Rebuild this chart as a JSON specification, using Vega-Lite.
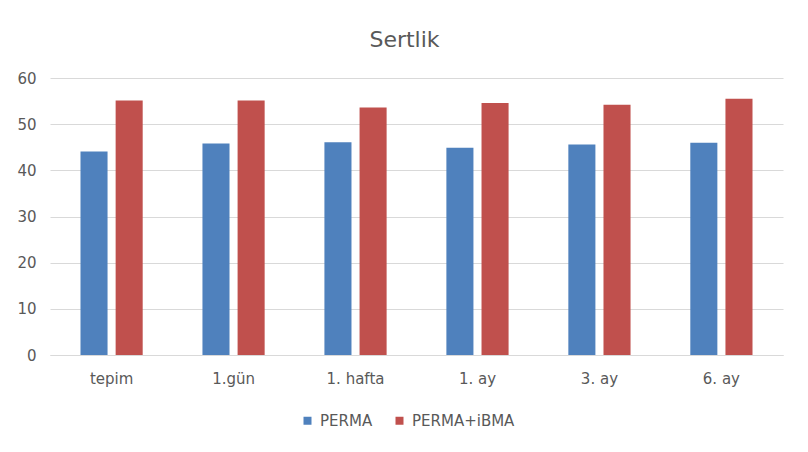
{
  "$schema": "https://vega.github.io/schema/vega-lite/v6.json",
  "width": 733,
  "height": 277,
  "autosize": {"type": "none"},
  "padding": {"left": 50, "top": 78, "right": 25, "bottom": 97},
  "background": "white",
  "title": {"text": "Sertlik", "fontSize": 22, "font": "DejaVu Sans", "fontWeight": "normal", "color": "#595959", "offset": 19, "dx": -12},
  "data": {"values": [
    {"zaman": "tepim", "grup": "PERMA", "deger": 44.1},
    {"zaman": "tepim", "grup": "PERMA+iBMA", "deger": 55.1},
    {"zaman": "1.gün", "grup": "PERMA", "deger": 45.8},
    {"zaman": "1.gün", "grup": "PERMA+iBMA", "deger": 55.1},
    {"zaman": "1. hafta", "grup": "PERMA", "deger": 46.1},
    {"zaman": "1. hafta", "grup": "PERMA+iBMA", "deger": 53.6},
    {"zaman": "1. ay", "grup": "PERMA", "deger": 44.9},
    {"zaman": "1. ay", "grup": "PERMA+iBMA", "deger": 54.6},
    {"zaman": "3. ay", "grup": "PERMA", "deger": 45.6},
    {"zaman": "3. ay", "grup": "PERMA+iBMA", "deger": 54.2},
    {"zaman": "6. ay", "grup": "PERMA", "deger": 46.0},
    {"zaman": "6. ay", "grup": "PERMA+iBMA", "deger": 55.5}
  ]},
  "mark": {"type": "bar"},
  "encoding": {
    "x": {"field": "zaman", "type": "nominal", "sort": null,
      "scale": {"paddingInner": 0.49, "paddingOuter": 0.25},
      "axis": {"title": null, "labelAngle": 0, "labelFontSize": 15, "labelFont": "DejaVu Sans", "labelColor": "#595959", "labelPadding": 16, "ticks": false, "domainColor": "#D9D9D9", "grid": false}},
    "xOffset": {"field": "grup", "type": "nominal", "scale": {"paddingInner": 0.23, "paddingOuter": 0}},
    "y": {"field": "deger", "type": "quantitative",
      "scale": {"domain": [0, 60], "nice": false},
      "axis": {"title": null, "values": [0, 10, 20, 30, 40, 50, 60], "labelFontSize": 15, "labelFont": "DejaVu Sans", "labelColor": "#595959", "labelPadding": 14, "ticks": false, "domain": false, "gridColor": "#D9D9D9", "gridWidth": 1}},
    "color": {"field": "grup", "type": "nominal",
      "scale": {"domain": ["PERMA", "PERMA+iBMA"], "range": ["#4F81BD", "#C0504D"]},
      "legend": {"title": null, "orient": "none", "legendX": 250, "legendY": 335, "direction": "horizontal", "symbolType": "square", "symbolSize": 64, "labelFontSize": 15, "labelFont": "DejaVu Sans", "labelColor": "#595959", "labelOffset": 5, "columnPadding": 19, "symbolStrokeWidth": 0}}
  },
  "config": {"view": {"stroke": null}}
}
